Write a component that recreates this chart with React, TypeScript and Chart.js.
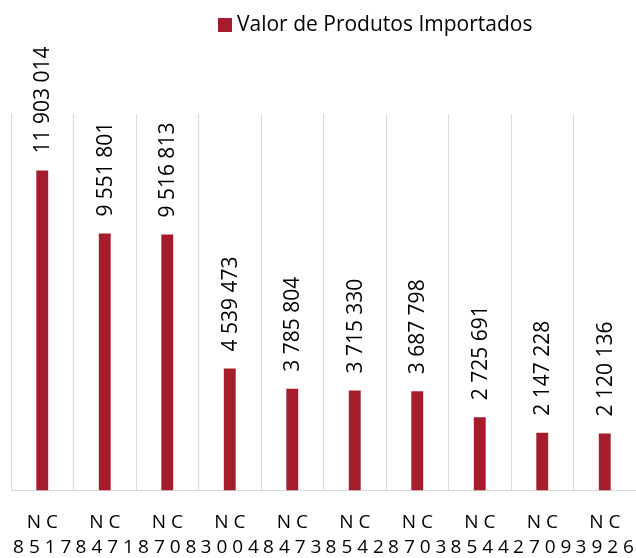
import React, { useEffect, useRef } from "react";
import { Chart, registerables } from "chart.js";

Chart.register(...registerables);

// ---- data ----
const categories = ["8517", "8471", "8708", "3004", "8473", "8542", "8703", "8544", "2709", "3926"];
const categoryPrefix = "N C";
const values = [11903014, 9551801, 9516813, 4539473, 3785804, 3715330, 3687798, 2725691, 2147228, 2120136];
const seriesName = "Valor de Produtos Importados";
const yMin = 0;
const yMax = 14000000;

const FONT = "'Open Sans', 'DejaVu Sans', sans-serif";
const BAR_COLOR = "#A51D2D";
const GRID_COLOR = "#D9D9D9";

function fmt(v: number): string {
  return String(v).replace(/\B(?=(\d{3})+(?!\d))/g, " ");
}

const valueLabelPlugin = {
  id: "valueLabels",
  afterDatasetsDraw(chart: any) {
    const ctx = chart.ctx;
    const meta = chart.getDatasetMeta(0);
    const data = chart.data.datasets[0].data as number[];
    ctx.save();
    ctx.font = `21px ${FONT}`;
    ctx.fillStyle = "#000000";
    ctx.textAlign = "left";
    ctx.textBaseline = "middle";
    meta.data.forEach((bar: any, i: number) => {
      ctx.save();
      ctx.translate(bar.x + 1, bar.y - 17);
      ctx.rotate(-Math.PI / 2);
      ctx.fillText(fmt(data[i]), 0, 0);
      ctx.restore();
    });
    ctx.restore();
  },
};

const legendPlugin = {
  id: "customLegend",
  afterDraw(chart: any) {
    const ctx = chart.ctx;
    const ds = chart.data.datasets[0];
    ctx.save();
    ctx.fillStyle = ds.backgroundColor;
    ctx.fillRect(218, 18, 14, 14);
    ctx.font = `21px ${FONT}`;
    ctx.fillStyle = "#000000";
    ctx.textAlign = "left";
    ctx.textBaseline = "middle";
    ctx.fillText(ds.label, 237, 25);
    ctx.restore();
  },
};

export default function App() {
  const canvasRef = useRef<HTMLCanvasElement | null>(null);

  useEffect(() => {
    if (!canvasRef.current) return;
    const chart = new Chart(canvasRef.current, {
      type: "bar",
      data: {
        labels: categories.map((c) => [categoryPrefix, c.split("").join(" ")]),
        datasets: [
          {
            label: seriesName,
            data: values,
            backgroundColor: BAR_COLOR,
            borderWidth: 0,
            barPercentage: 0.19,
            categoryPercentage: 1,
          },
        ],
      },
      options: {
        responsive: false,
        animation: false,
        devicePixelRatio: 1,
        layout: { padding: { top: 114, left: 11, right: 0, bottom: 0 } },
        plugins: {
          legend: { display: false },
          tooltip: { enabled: false },
        },
        scales: {
          x: {
            afterFit(scale: any) {
              scale.paddingLeft = 0;
              scale.paddingRight = 0;
              scale.height = 67.5;
            },
            grid: {
              display: true,
              color: GRID_COLOR,
              lineWidth: 1,
              offset: true,
              drawTicks: false,
            },
            border: { display: true, color: GRID_COLOR, width: 1 },
            ticks: {
              color: "#000000",
              font: { family: FONT, size: 19, lineHeight: 1.3 },
              padding: 20,
              maxRotation: 0,
              minRotation: 0,
              autoSkip: false,
            },
          },
          y: {
            display: false,
            min: yMin,
            max: yMax,
          },
        },
      },
      plugins: [valueLabelPlugin, legendPlugin],
    });
    return () => chart.destroy();
  }, []);

  return (
    <div style={{ position: "fixed", left: 0, top: 0, width: 636, height: 558, background: "#ffffff" }}>
      <canvas ref={canvasRef} width={636} height={558} style={{ width: 636, height: 558, display: "block" }} />
    </div>
  );
}
